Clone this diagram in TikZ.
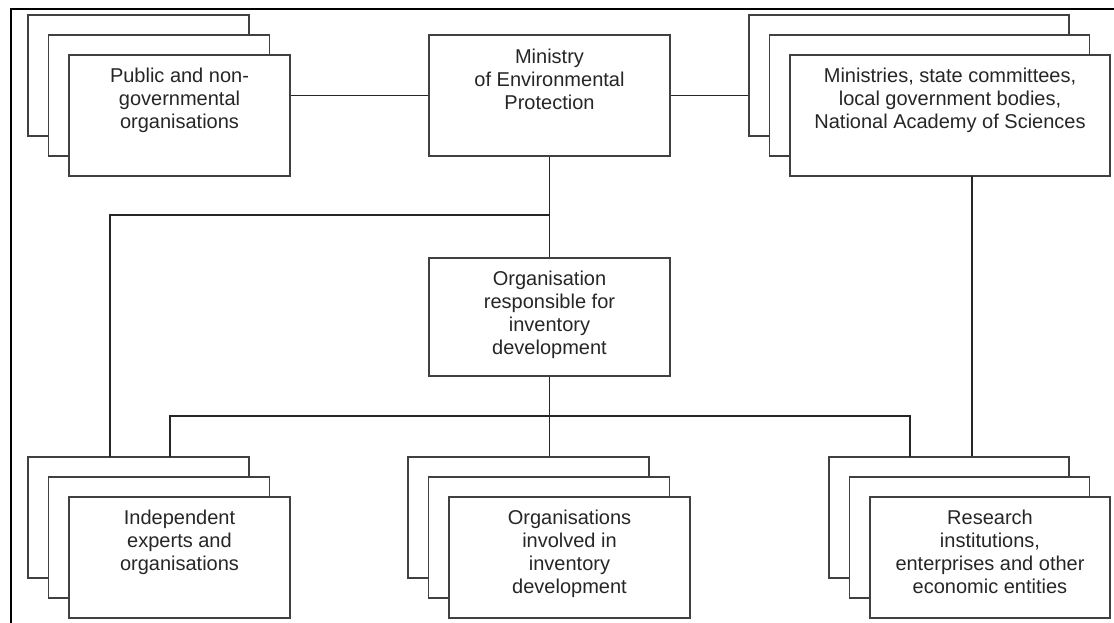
\documentclass[tikz,border=0pt]{standalone}
\usepackage{fontspec}
\setmainfont{Liberation Sans}
\usetikzlibrary{calc}
\begin{document}
\begin{tikzpicture}
[x=1pt,y=-1pt,
  boxdecorate/.style={shape=rectangle,draw=black!75,line width=1.8pt,fill=white,inner sep=0pt,minimum height=121pt},%
  textdecorate/.style={anchor=north,align=center,inner sep=0pt,text=black!85,font=\fontsize{20}{23}\selectfont},%
  linedecorate/.style={-,draw=black!85,line width=1.7pt}]
\useasboundingbox (0,0) rectangle (1114,623);
%% frame
\draw[line width=1.8pt] (11,623) -- (11,9) -- (1114,9);
%% stacked boxes
\foreach \name/\x/\y/\w in {pub/179.5/115.5/221, mins/950/115.5/320, exp/179.5/557.5/221, inv/569.5/557.5/241, res/990/557.5/240} {
  \node (\name-b) at (\x-41,\y-40) [boxdecorate,minimum width=\w pt] {};
  \node (\name-m) at (\x-20.5,\y-20) [boxdecorate,minimum width=\w pt] {};
  \node (\name) at (\x,\y) [boxdecorate,minimum width=\w pt] {};
}
%% single boxes
\node (min) at (549.5,95.5) [boxdecorate,minimum width=241pt] {};
\node (org) at (549.5,317) [boxdecorate,minimum width=241pt,minimum height=118pt] {};
%% texts
\node (pub-t) at ($(pub.north)+(0,12)$) [textdecorate] {\strut Public and non-\\governmental\\organisations};
\node (min-t) at ($(min.north)+(0,13)$) [textdecorate] {\strut Ministry\\of Environmental\\Protection};
\node (mins-t) at ($(mins.north)+(0,12)$) [textdecorate] {\strut Ministries, state committees,\\local government bodies,\\National Academy of Sciences};
\node (org-t) at ($(org.north)+(0,12)$) [textdecorate] {\strut Organisation\\responsible for\\inventory\\development};
\node (exp-t) at ($(exp.north)+(0,12)$) [textdecorate] {\strut Independent\\experts and\\organisations};
\node (inv-t) at ($(inv.north)+(0,12)$) [textdecorate] {\strut Organisations\\involved in\\inventory\\development};
\node (res-t) at ($(res.north)+(0,12)$) [textdecorate] {\strut Research\\institutions,\\enterprises and other\\economic entities};
%% junctions
\coordinate (j1) at (549.5,215);
\coordinate (j2) at (549.5,416);
\coordinate (exp-in) at (110,457);
\coordinate (exp-in2) at (170,457);
\coordinate (res-in) at (910,457);
\coordinate (mins-out) at (972,176);
%% edges or lines
\draw[linedecorate] (min.west) -- (min.west -| pub.east);
\draw[linedecorate] (min.east) -- (min.east -| mins-b.west);
\draw[linedecorate] (min.south) -- (org.north);
\draw[linedecorate] (j1) -| (exp-in);
\draw[linedecorate] (mins-out) -- (mins-out |- res-b.north);
\draw[linedecorate] (org.south) -- (org.south |- inv-b.north);
\draw[linedecorate] (exp-in2) |- (j2) -| (res-in);
\end{tikzpicture}
\end{document}
